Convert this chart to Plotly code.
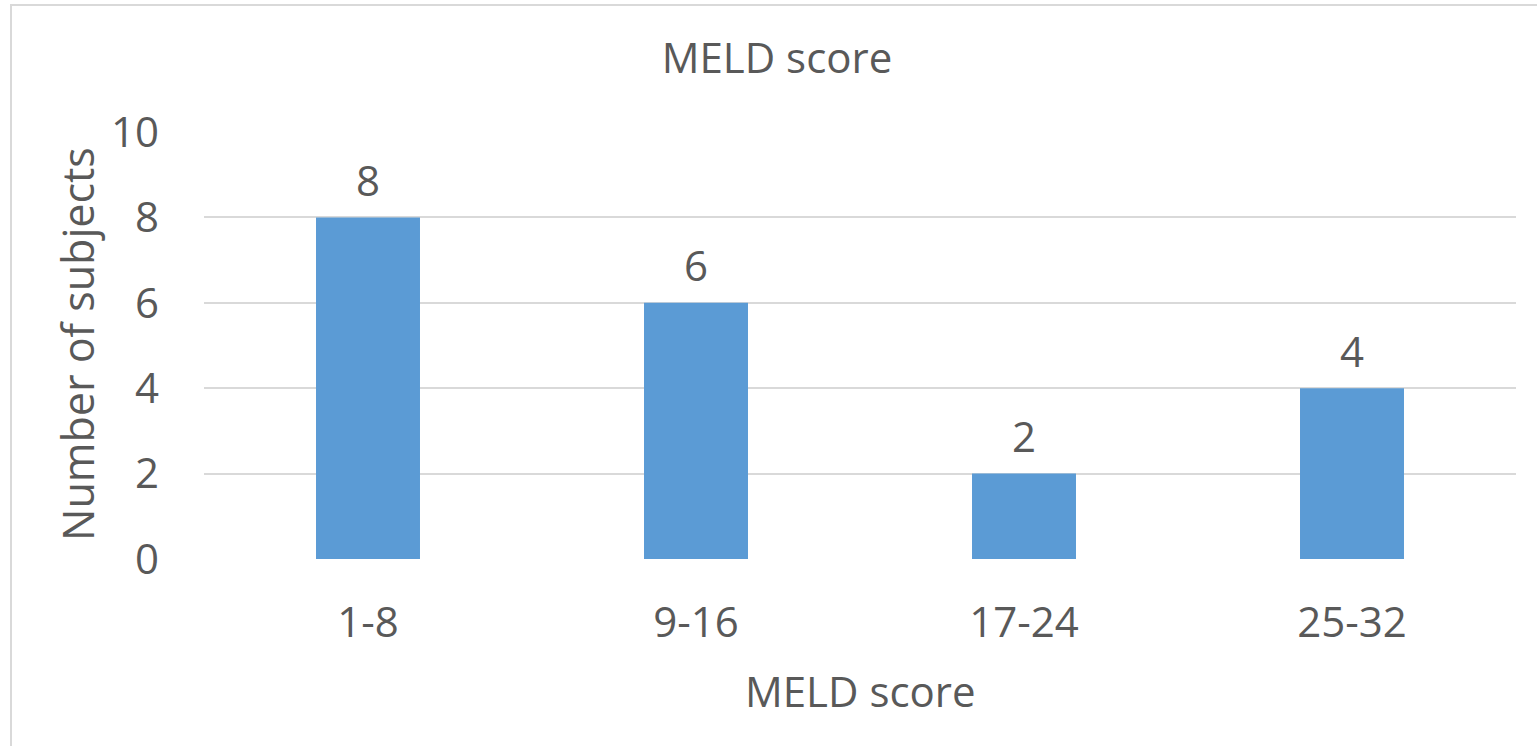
import plotly.graph_objects as go

categories = ["1-8", "9-16", "17-24", "25-32"]
subjects = [8, 6, 2, 4]
y_ticks = [0, 2, 4, 6, 8, 10]

W, H = 1537, 746
L, R, T, B = 204, 21, 132, 187
pw, ph = W - L - R, H - T - B

def px_x(x):
    return (x - L) / pw

def px_y(y):
    return 1 - (y - T) / ph

font_family = "Open Sans, Lato, sans-serif"
txt = "#595959"
fs = 42

fig = go.Figure(go.Bar(
    x=categories, y=subjects,
    marker=dict(color="#5B9BD5", line=dict(width=0)),
))

label_annotations = [
    dict(text=str(v), x=c, y=v, xref="x", yref="y", xanchor="center", yanchor="middle",
         yshift=38, showarrow=False, font=dict(size=fs, color=txt))
    for c, v in zip(categories, subjects)
]

fig.update_layout(
    width=W, height=H,
    margin=dict(l=L, r=R, t=T, b=B),
    paper_bgcolor="white", plot_bgcolor="white",
    bargap=0.683,
    showlegend=False,
    font=dict(family=font_family, color=txt, size=fs),
    title=dict(text="MELD score", x=777 / W, xref="container", xanchor="center",
               y=1 - 58 / H, yref="container", yanchor="middle",
               font=dict(size=fs, color=txt, family=font_family)),
    xaxis=dict(showgrid=False, showline=False, zeroline=False, ticks="",
               tickfont=dict(size=fs, color=txt), ticklabelstandoff=35),
    yaxis=dict(range=[0, 10], tickvals=y_ticks, showgrid=True, gridcolor="#D9D9D9",
               gridwidth=2, zeroline=False, showline=False, ticks="",
               tickfont=dict(size=fs, color=txt), ticklabelstandoff=44),
    annotations=label_annotations + [
        dict(text="MELD score", xref="paper", yref="paper", x=px_x(860), y=px_y(690),
             xanchor="center", yanchor="middle", showarrow=False,
             font=dict(size=fs, color=txt)),
        dict(text="Number of subjects", xref="paper", yref="paper", x=px_x(77), y=px_y(344),
             xanchor="center", yanchor="middle", showarrow=False, textangle=-90,
             font=dict(size=fs + 1, color=txt)),
    ],
    shapes=[dict(type="rect", xref="paper", yref="paper",
                 x0=px_x(11), y0=px_y(760), x1=px_x(1550), y1=px_y(5),
                 line=dict(color="#D9D9D9", width=2), fillcolor="rgba(0,0,0,0)",
                 layer="below")],
)

fig.write_html("out.html")
